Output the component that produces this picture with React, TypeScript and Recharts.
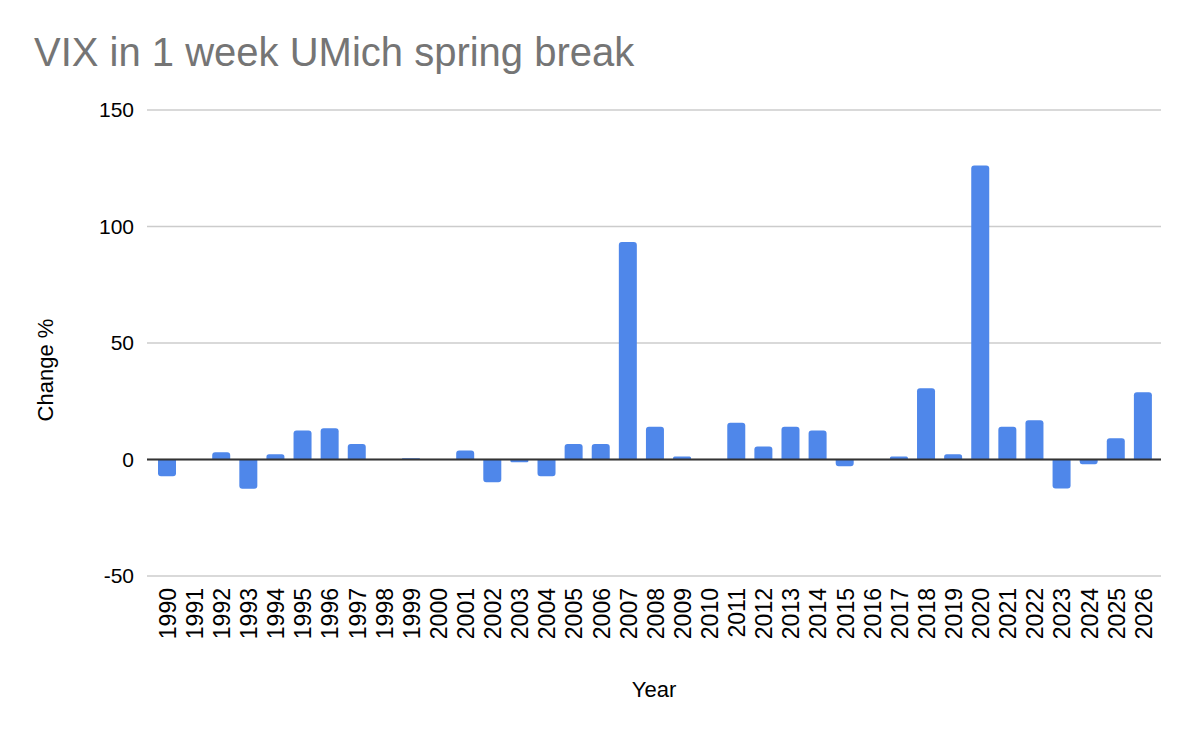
import React from "react";
import {
  BarChart,
  Bar,
  XAxis,
  YAxis,
  CartesianGrid,
  ReferenceLine,
} from "recharts";

// ─── Data ────────────────────────────────────────────────────────────────────

const years = [
  "1990", "1991", "1992", "1993", "1994", "1995", "1996", "1997", "1998",
  "1999", "2000", "2001", "2002", "2003", "2004", "2005", "2006", "2007",
  "2008", "2009", "2010", "2011", "2012", "2013", "2014", "2015", "2016",
  "2017", "2018", "2019", "2020", "2021", "2022", "2023", "2024", "2025",
  "2026",
];

const changePct = [
  -7.2, 0, 3.1, -12.5, 2.2, 12.5, 13.4, 6.6, 0,
  0.5, 0, 3.9, -9.8, -1.2, -7.2, 6.6, 6.6, 93.4,
  14.1, 1.3, 0, 15.8, 5.6, 14.1, 12.5, -2.9, 0,
  1.3, 30.6, 2.2, 126.2, 14.1, 16.8, -12.4, -2.0, 9.1,
  28.9,
];

const yTicks = [-50, 0, 50, 100, 150];

const data = years.map((year, i) => ({ year, change: changePct[i] }));

const FONT = "'Liberation Sans', Arial, sans-serif";

function YearTick({ x, y, payload }: any) {
  return (
    <text
      transform={`translate(${x + 1},${y}) rotate(-90)`}
      textAnchor="end"
      dy="0.36em"
      fontSize={23}
      fontFamily={FONT}
      fill="#000"
    >
      {payload.value}
    </text>
  );
}

export default function App() {
  return (
    <div
      style={{
        position: "absolute",
        left: 0,
        top: 0,
        width: 1196,
        height: 732,
        background: "#fff",
        fontFamily: FONT,
      }}
    >
      <div
        style={{
          position: "absolute",
          left: 34,
          top: 32,
          fontSize: 40,
          lineHeight: "40px",
          color: "#757575",
          whiteSpace: "nowrap",
        }}
      >
        VIX in 1 week UMich spring break
      </div>
      <BarChart
        width={1196}
        height={732}
        data={data}
        margin={{ top: 110, right: 35, left: 0, bottom: 0 }}
      >
        <CartesianGrid vertical={false} stroke="#cccccc" strokeWidth={1.5} />
        <XAxis
          dataKey="year"
          height={156}
          interval={0}
          axisLine={false}
          tickLine={false}
          tickSize={0}
          tickMargin={12}
          padding={{ left: 6, right: 5 }}
          tick={<YearTick />}
          label={{
            content: () => (
              <text
                x={654}
                y={697}
                textAnchor="middle"
                fontSize={22}
                fontFamily={FONT}
                fill="#000"
              >
                Year
              </text>
            ),
          }}
        />
        <YAxis
          width={147}
          domain={[-50, 150]}
          ticks={yTicks}
          interval={0}
          axisLine={false}
          tickLine={false}
          tickSize={0}
          tickMargin={13}
          tick={{ fontSize: 21, fill: "#000", fontFamily: FONT }}
          label={{
            content: () => (
              <text
                x={53}
                y={370}
                transform="rotate(-90 53 370)"
                textAnchor="middle"
                fontSize={22}
                fontFamily={FONT}
                fill="#000"
              >
                Change %
              </text>
            ),
          }}
        />
        <ReferenceLine y={0} stroke="#333333" strokeWidth={2} />
        <Bar
          dataKey="change"
          fill="#4f87ea"
          barSize={18}
          radius={[3, 3, 0, 0]}
          isAnimationActive={false}
        />
      </BarChart>
    </div>
  );
}
